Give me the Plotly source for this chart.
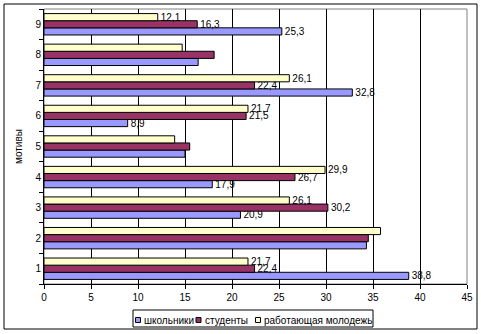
import plotly.graph_objects as go

categories = ["1", "2", "3", "4", "5", "6", "7", "8", "9"]
series_names = ["школьники", "студенты", "работающая молодежь"]
schoolkids = [38.8, 34.3, 20.9, 17.9, 15.0, 8.9, 32.8, 16.4, 25.3]
students = [22.4, 34.5, 30.2, 26.7, 15.5, 21.5, 22.4, 18.1, 16.3]
workers = [21.7, 35.8, 26.1, 29.9, 13.9, 21.7, 26.1, 14.7, 12.1]
labeled = [True, False, True, True, False, True, True, False, True]
x_ticks = [0, 5, 10, 15, 20, 25, 30, 35, 40, 45]
colors = ["#9999FF", "#993366", "#FFFFCC"]

W, H = 481, 334
ML, MR, MT, MB = 44, 14, 9, 50
PW, PH = W - ML - MR, H - MT - MB

def px(xp):
    return (xp - ML) / PW

def py(yp):
    return (H - MB - yp) / PH

def labels(vals):
    return [(f"{v:.1f}".replace(".", ",") if show else "") for v, show in zip(vals, labeled)]

FONT = "Liberation Sans, Arial, sans-serif"
fig = go.Figure()
for name, vals, col in zip(series_names, [schoolkids, students, workers], colors):
    fig.add_trace(go.Bar(
        y=categories, x=vals, name=name, orientation="h",
        marker=dict(color=col, line=dict(color="black", width=1)),
        text=labels(vals), textposition="outside", cliponaxis=False,
        constraintext="none",
        textfont=dict(family=FONT, size=10, color="black"),
    ))

shapes = [
    dict(type="rect", xref="paper", yref="paper", x0=0, x1=1, y0=0, y1=1,
         line=dict(color="#808080", width=1), layer="below"),
    dict(type="rect", xref="paper", yref="paper", x0=px(4), x1=px(477),
         y0=py(329), y1=py(4), line=dict(color="black", width=1)),
    dict(type="rect", xref="paper", yref="paper", x0=px(133), x1=px(373),
         y0=py(327), y1=py(310), line=dict(color="black", width=1)),
]
annotations = []
legend_sq = [135.5, 196, 255.5]
legend_tx = [142, 203, 262]
for name, col, sx, tx in zip(series_names, colors, legend_sq, legend_tx):
    shapes.append(dict(type="rect", xref="paper", yref="paper", x0=px(sx), x1=px(sx + 5),
                       y0=py(322.5), y1=py(317.5), fillcolor=col,
                       line=dict(color="black", width=1)))
    annotations.append(dict(xref="paper", yref="paper", x=px(tx), y=py(320),
                            xanchor="left", yanchor="middle", showarrow=False,
                            text=name, font=dict(family=FONT, size=10, color="black")))

fig.update_layout(
    width=W, height=H,
    margin=dict(l=ML, r=MR, t=MT, b=MB),
    paper_bgcolor="white", plot_bgcolor="white",
    barmode="group", bargap=0.3, bargroupgap=0,
    font=dict(family=FONT, size=10, color="black"),
    showlegend=False,
    xaxis=dict(range=[0, 45], tickvals=x_ticks, ticks="outside", ticklen=4,
               tickcolor="black", showgrid=True, gridcolor="black", gridwidth=1,
               showline=True, linecolor="black", linewidth=1, zeroline=False,
               tickfont=dict(size=10)),
    yaxis=dict(type="category", categoryorder="array", categoryarray=categories,
               ticks="outside", tickson="boundaries", ticklen=4, tickcolor="black",
               showline=True, linecolor="black", linewidth=1, showgrid=False,
               title=dict(text="мотивы", font=dict(size=10), standoff=10),
               tickfont=dict(size=10)),
    shapes=shapes,
    annotations=annotations,
)

fig.write_html("out.html")
